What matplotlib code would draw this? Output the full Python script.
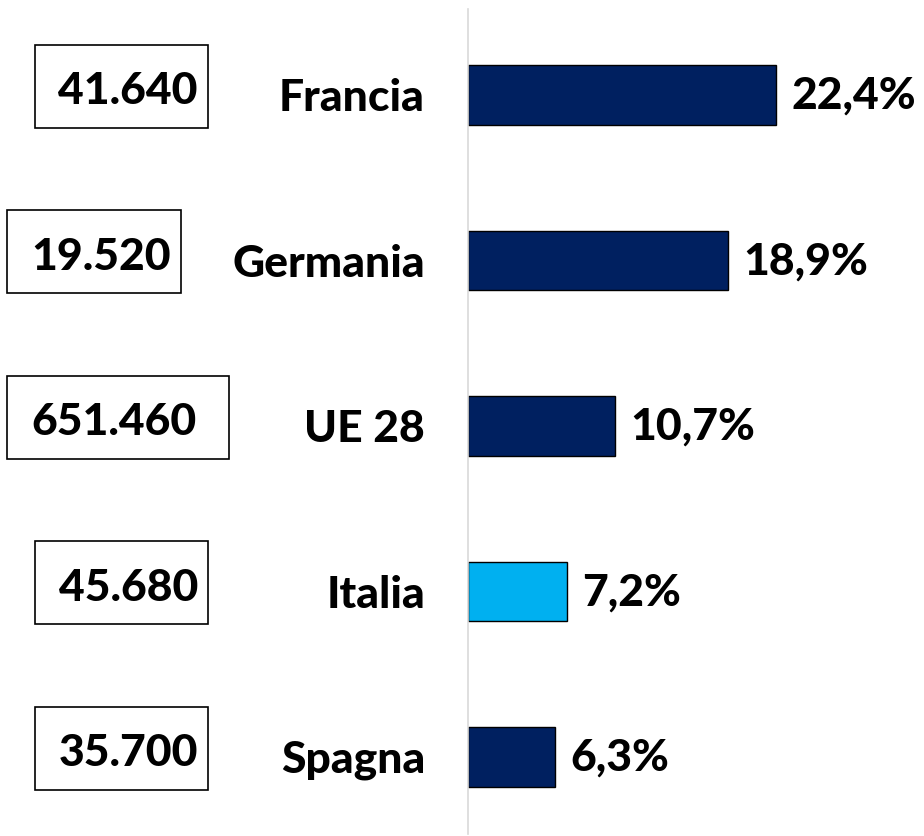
import matplotlib
matplotlib.use("Agg")
import matplotlib.pyplot as plt
from matplotlib.patches import Rectangle
from matplotlib.transforms import blended_transform_factory

paesi = ["Francia", "Germania", "UE 28", "Italia", "Spagna"]
quote = [22.4, 18.9, 10.7, 7.2, 6.3]
etichette_quote = ["22,4%", "18,9%", "10,7%", "7,2%", "6,3%"]
valori_box = ["41.640", "19.520", "651.460", "45.680", "35.700"]

colori = ["#002060", "#002060", "#002060", "#00b0f0", "#002060"]

W, H = 924, 837
fig = plt.figure(figsize=(W / 100, H / 100), dpi=100)
plt.rcParams["font.family"] = ["Lato", "DejaVu Sans"]
FS = 32
PESO = "black"

# asse: da x=468 al bordo destro, da y=10 a y=835 (pixel)
ax = fig.add_axes([468 / W, (H - 835) / H, (W - 468) / W, 825 / H])
px_per_pct = 13.75
ax.set_xlim(0, (W - 468) / px_per_pct)
ax.set_ylim(4.465, -0.52)

pos = list(range(len(paesi)))
ax.barh(pos, quote, height=0.36, color=colori, edgecolor="black", linewidth=1)

for i, (q, t) in enumerate(zip(quote, etichette_quote)):
    ax.annotate(t, (q, i), xytext=(11, 0), textcoords="offset points",
                ha="left", va="center", fontsize=FS, fontweight=PESO)

for s in ["top", "right", "bottom"]:
    ax.spines[s].set_visible(False)
ax.spines["left"].set_color("#d9d9d9")
ax.spines["left"].set_linewidth(1.2)
ax.set_xticks([])
ax.set_yticks([])

tr = blended_transform_factory(fig.transFigure, ax.transData)

# nomi dei paesi
for i, p in enumerate(paesi):
    fig.text(425 / W, i + 2 / 165.5, p, transform=tr, ha="right", va="center",
             fontsize=FS, fontweight=PESO)

# riquadri con i valori
box_x0 = [35, 7, 7, 35, 35]
box_x1 = [208, 181, 229, 208, 208]
box_h = 83 / 165.5
for i, v in enumerate(valori_box):
    yc = i - 9 / 165.5
    r = Rectangle((box_x0[i] / W, yc - box_h / 2), (box_x1[i] - box_x0[i]) / W, box_h,
                  transform=tr, fill=False, edgecolor="black", linewidth=1.2,
                  clip_on=False)
    fig.patches.append(r)
    fig.text((box_x1[i] - 10) / W if i != 2 else 197 / W, yc + 4 / 165.5, v,
             transform=tr, ha="right", va="center", fontsize=FS, fontweight=PESO)

fig.savefig("out.png", dpi=100)
